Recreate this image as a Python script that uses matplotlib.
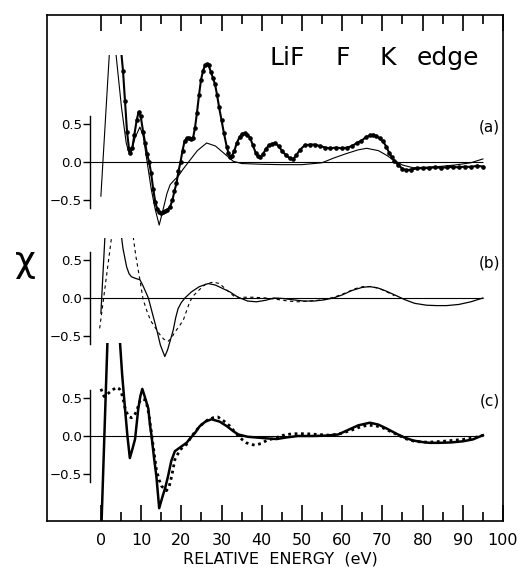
import matplotlib
matplotlib.use("Agg")
import matplotlib.pyplot as plt
import numpy as np

plt.rcParams['font.family'] = ['DejaVu Sans']

# ---------------- data ----------------
# Panel (a): theory (thin) and experiment (thick with dots)
a_theory_E = [0.0, 2.3, 3.6, 5.1, 6.3, 7.0, 7.6, 8.5, 9.7, 10.5, 11.5, 12.5, 13.5, 14.5,
              15.5, 16.4, 17.2, 18.2, 19.2, 20.5, 22.1, 24.0, 26.3, 28.5, 30.5, 32.9, 35,
              40, 45, 50, 55, 57.8, 61, 64, 66.1, 69, 71, 72.7, 75, 77.6, 80, 84, 88, 92, 95]
a_theory_chi = [-0.45, 1.6, 1.5, 0.73, 0.25, 0.12, 0.14, 0.32, 0.46, 0.35, 0.0, -0.35, -0.62, -0.83,
                -0.62, -0.42, -0.30, -0.24, -0.19, -0.09, 0.02, 0.15, 0.25, 0.21, 0.12, 0.01, -0.02,
                -0.03, -0.035, -0.035, -0.01, 0.05, 0.11, 0.16, 0.18, 0.15, 0.09, 0.03, -0.04, -0.075,
                -0.07, -0.06, -0.04, -0.01, 0.04]

a_exp_E = [4.8, 5.5, 6.0, 6.5, 7.0, 7.3, 7.8, 8.3, 8.9, 9.4, 9.9, 10.5, 11.0, 11.5, 12.0, 12.5,
           13.0, 13.5, 14.0, 14.5, 15.0, 15.5, 16.0, 16.5, 17.2, 17.8, 18.3, 18.8, 19.3, 19.8,
           20.3, 20.8, 21.3, 21.8, 22.3, 22.9, 23.4, 23.9, 24.4, 24.9, 25.4, 25.9, 26.3, 26.8,
           27.4, 27.9, 28.4, 28.9, 29.4, 30.0, 30.6, 31.3, 31.7, 32.1, 32.6, 33.2, 33.8, 34.5,
           35.2, 35.8, 36.4, 37.1, 37.8, 38.5, 39.0, 39.6, 40.3, 41.0, 41.8, 42.5, 43.3, 44.2,
           45.0, 46.0, 47.0, 47.8, 48.6, 49.5, 50.7, 52.0, 53.2, 54.5, 55.8, 57.0, 58.5, 60.0,
           61.2, 62.5, 63.6, 64.8, 66.0, 67.0, 67.7, 68.5, 69.4, 70.2, 71.0, 71.7, 72.3, 73.0,
           74.0, 75.0, 76.0, 77.0, 78.5, 80.0, 81.5, 83.0, 84.5, 86.0, 87.5, 89.0, 90.5, 92.0,
           93.5, 95.0]
a_exp_chi = [1.6, 1.2, 0.8, 0.4, 0.17, 0.12, 0.18, 0.35, 0.55, 0.66, 0.60, 0.40, 0.25, 0.10, 0.0, -0.15,
             -0.35, -0.52, -0.62, -0.66, -0.67, -0.66, -0.65, -0.63, -0.59, -0.50, -0.38, -0.28, -0.12, 0.0,
             0.15, 0.27, 0.31, 0.32, 0.30, 0.31, 0.45, 0.65, 0.88, 1.08, 1.20, 1.27, 1.29, 1.27,
             1.18, 1.10, 1.02, 0.88, 0.72, 0.55, 0.38, 0.20, 0.12, 0.07, 0.08, 0.15, 0.25, 0.33,
             0.37, 0.38, 0.36, 0.32, 0.22, 0.12, 0.08, 0.06, 0.10, 0.17, 0.22, 0.24, 0.25, 0.21,
             0.15, 0.09, 0.05, 0.035, 0.09, 0.16, 0.22, 0.23, 0.23, 0.21, 0.19, 0.18, 0.19, 0.18,
             0.19, 0.21, 0.25, 0.28, 0.33, 0.35, 0.36, 0.34, 0.31, 0.27, 0.20, 0.12, 0.07, 0.01,
             -0.04, -0.09, -0.11, -0.10, -0.085, -0.08, -0.08, -0.07, -0.075, -0.07, -0.065, -0.07, -0.06, -0.065,
             -0.05, -0.06]

# Panel (b): solid and dashed
b_solid_E = [0.0, 1.1, 4.9, 5.5, 6.4, 7.0, 7.6, 8.5, 9.7, 10.3, 10.9, 11.8, 12.8, 13.9, 14.8, 15.9,
             16.6, 17.3, 18.0, 18.6, 19.2, 20.0, 20.9, 22.5, 24.5, 26.7, 28.5, 30.5, 32.1, 33.5,
             34.6, 36.5, 38.7, 41, 43, 45, 48, 50.5, 53, 55.5, 57.8, 60, 62.5, 65, 66.9, 69, 71,
             73.5, 75.5, 78, 81, 83.5, 86, 89, 92, 95]
b_solid_chi = [-0.2, 0.9, 0.9, 0.65, 0.41, 0.32, 0.28, 0.26, 0.24, 0.18, 0.11, 0.0, -0.2, -0.42, -0.62, -0.77,
               -0.68, -0.55, -0.42, -0.26, -0.14, -0.06, 0.0, 0.08, 0.15, 0.19, 0.17, 0.12, 0.08, 0.03,
               0.0, -0.04, -0.05, -0.03, 0.0, -0.005, -0.025, -0.04, -0.04, -0.025, 0.0, 0.04, 0.10, 0.14,
               0.15, 0.13, 0.09, 0.03, -0.02, -0.07, -0.095, -0.10, -0.10, -0.085, -0.05, 0.0]

b_dash_E = [-0.3, 2.9, 7.8, 8.7, 9.7, 10.5, 11.5, 12.4, 13.4, 14.5, 15.6, 16.7, 17.5, 18.4, 19.5, 20.5,
            21.3, 22.1, 23.0, 24.5, 26.0, 27.9, 29.5, 31.0, 32.5, 33.7, 35.5, 38, 41, 44, 46.5, 49,
            51.5, 54, 56.5, 58.5, 61, 63, 65.2, 67.5, 69.5, 71.5, 73]
b_dash_chi = [-0.4, 0.9, 0.9, 0.55, 0.24, -0.02, -0.18, -0.30, -0.38, -0.47, -0.54, -0.57, -0.53, -0.45, -0.37, -0.29,
              -0.17, -0.05, 0.03, 0.11, 0.18, 0.21, 0.19, 0.12, 0.05, 0.0, 0.01, 0.01, 0.0, -0.02, -0.04, -0.05,
              -0.04, -0.03, -0.01, 0.02, 0.07, 0.12, 0.15, 0.15, 0.12, 0.07, 0.03]

# Panel (c): solid (thick) and dotted (thick)
c_solid_E = [0.0, 1.7, 4.6, 5.3, 6.0, 6.6, 7.2, 7.8, 8.5, 9.3, 9.8, 10.3, 10.9, 11.8, 12.2, 12.6, 13.2,
             13.8, 14.5, 15.2, 16.0, 16.7, 17.5, 18.4, 19.7, 21.3, 22.4, 23.4, 24.6, 26, 27.5, 29.5,
             31.3, 33, 34.2, 36.5, 38.7, 41, 43.7, 46, 49, 52.8, 56, 59, 61.5, 64, 66.9, 69, 71,
             73.5, 75.5, 77.7, 80, 81.8, 84, 87, 90, 92.5, 95]
c_solid_chi = [-1.4, 1.35, 1.35, 0.8, 0.36, 0.0, -0.29, -0.18, -0.04, 0.36, 0.52, 0.62, 0.52, 0.36, 0.15, 0.0, -0.28,
               -0.53, -0.95, -0.82, -0.68, -0.53, -0.33, -0.20, -0.15, -0.09, -0.02, 0.04, 0.13, 0.19, 0.22, 0.19,
               0.13, 0.06, 0.02, -0.01, -0.02, -0.03, -0.04, -0.02, 0.0, 0.0, 0.005, 0.02, 0.08, 0.14, 0.175, 0.15, 0.10,
               0.03, -0.02, -0.06, -0.08, -0.09, -0.09, -0.085, -0.07, -0.045, 0.01]

c_dot_E = [0.0, 0.8, 1.6, 2.7, 3.9, 4.6, 5.1, 5.6, 6.0, 6.8, 7.6, 8.3, 8.9, 9.7, 10.3, 10.9, 11.5, 12.0,
           12.5, 13.0, 13.8, 14.5, 15.1, 16.3, 17.0, 17.6, 18.4, 19.7, 21.3, 22.6, 24.6, 26.5, 27.9,
           29.1, 30.5, 32.1, 33.2, 34.2, 35.2, 36.2, 37.3, 38.3, 39.8, 41.2, 43.7, 46, 48.5, 51, 54,
           57, 59.5, 62, 64, 66.1, 68, 70, 72, 74, 76, 78, 80, 82, 85, 88, 91, 93, 95]
c_dot_chi = [0.62, 0.52, 0.55, 0.60, 0.64, 0.62, 0.57, 0.47, 0.37, 0.26, 0.24, 0.27, 0.33, 0.46, 0.49, 0.48, 0.40, 0.26,
             0.07, -0.13, -0.44, -0.58, -0.66, -0.72, -0.66, -0.53, -0.31, -0.18, -0.11, 0.0, 0.13, 0.21, 0.24,
             0.25, 0.20, 0.13, 0.06, 0.0, -0.05, -0.09, -0.11, -0.12, -0.10, -0.06, -0.02, 0.02, 0.03, 0.03, 0.02,
             0.01, 0.03, 0.07, 0.11, 0.14, 0.14, 0.11, 0.06, 0.01, -0.04, -0.07, -0.08, -0.08, -0.07, -0.055, -0.04,
             -0.02, 0.01]

x_major = list(range(0, 101, 10))
x_minor = list(range(5, 100, 10))
x_labels = [str(v) for v in x_major]
y_ticks = [-0.5, 0.0, 0.5]
y_labels = ["\u22120.5", "0.0", "0.5"]
panel_names = ["(a)", "(b)", "(c)"]

# ---------------- layout ----------------
FW, FH = 532, 575
fig = plt.figure(figsize=(FW / 100, FH / 100), dpi=100)
L_PX, R_PX, T_PX, B_PX = 47, 503, 15, 521
XMIN, XMAX = -13.4, 100
SCALE = 76.0           # px per chi unit
SPINE_E = -2.74        # energy where the panel y-axes stand

ax = fig.add_axes([L_PX / FW, 1 - B_PX / FH, (R_PX - L_PX) / FW, (B_PX - T_PX) / FH])
ax.set_xlim(XMIN, XMAX)
ax.set_ylim(0, 1)
ax.set_yticks([])
ax.set_xticks(x_major)
ax.set_xticklabels(x_labels, fontsize=11.5)
ax.set_xticks(x_minor, minor=True)
ax.tick_params(axis='x', which='both', direction='in', top=True, bottom=True, width=1.2, pad=8.5)
ax.tick_params(axis='x', which='major', length=11.5)
ax.tick_params(axis='x', which='minor', length=6.5)
for s in ax.spines.values():
    s.set_linewidth(1.2)

fig.text(280 / FW, 1 - 559 / FH, "RELATIVE  ENERGY  (eV)", ha='center', va='center', fontsize=11.5)
fig.text(25 / FW, 1 - 262 / FH, "\u03c7", ha='center', va='center', fontsize=26)

for word, xp in [("LiF", 269), ("F", 335), ("K", 380), ("edge", 417)]:
    fig.text(xp / FW, 1 - 65 / FH, word, ha='left', va='baseline', fontsize=18)


def make_panel(zero_py, ylo, yhi, name):
    bot = zero_py - ylo * SCALE
    top = zero_py - yhi * SCALE
    p = fig.add_axes([L_PX / FW, 1 - bot / FH, (R_PX - L_PX) / FW, (bot - top) / FH])
    p.set_xlim(XMIN, XMAX)
    p.set_ylim(ylo, yhi)
    p.patch.set_visible(False)
    for k in ['top', 'right', 'bottom']:
        p.spines[k].set_visible(False)
    p.spines['left'].set_position(('data', SPINE_E))
    p.spines['left'].set_bounds(-0.6, 0.6)
    p.spines['left'].set_linewidth(1.0)
    p.set_xticks([])
    p.set_yticks(y_ticks)
    p.set_yticklabels(y_labels, fontsize=9.5)
    p.tick_params(axis='y', direction='out', length=5, width=1.0, pad=0.5)
    p.text(99.3, 0.46, name, ha='right', va='center', fontsize=11)
    return p


pa = make_panel(162, -0.95, 1.41, panel_names[0])
pb = make_panel(298, -0.85, 0.79, panel_names[1])
pc = make_panel(436, -(B_PX - 436) / SCALE, 1.22, panel_names[2])

# panel (a)
pa.hlines(0, SPINE_E, a_theory_E[-1], color='black', lw=0.8)
pa.plot(a_theory_E, a_theory_chi, color='black', lw=0.8)
pa.plot(a_exp_E, a_exp_chi, color='black', lw=1.5, marker='o', ms=2.3)

# panel (b)
pb.hlines(0, SPINE_E, b_solid_E[-1], color='black', lw=0.8)
pb.plot(b_solid_E, b_solid_chi, color='black', lw=0.9)
pb.plot(b_dash_E, b_dash_chi, color='black', lw=0.8, ls=(0, (3, 3)))

# panel (c)
pc.hlines(0, SPINE_E, c_solid_E[-1], color='black', lw=0.8)
pc.plot(c_solid_E, c_solid_chi, color='black', lw=1.8)
pc.plot(c_dot_E, c_dot_chi, color='black', lw=2.0, ls=(0, (1.0, 1.3)))

fig.savefig("out.png", dpi=100)
